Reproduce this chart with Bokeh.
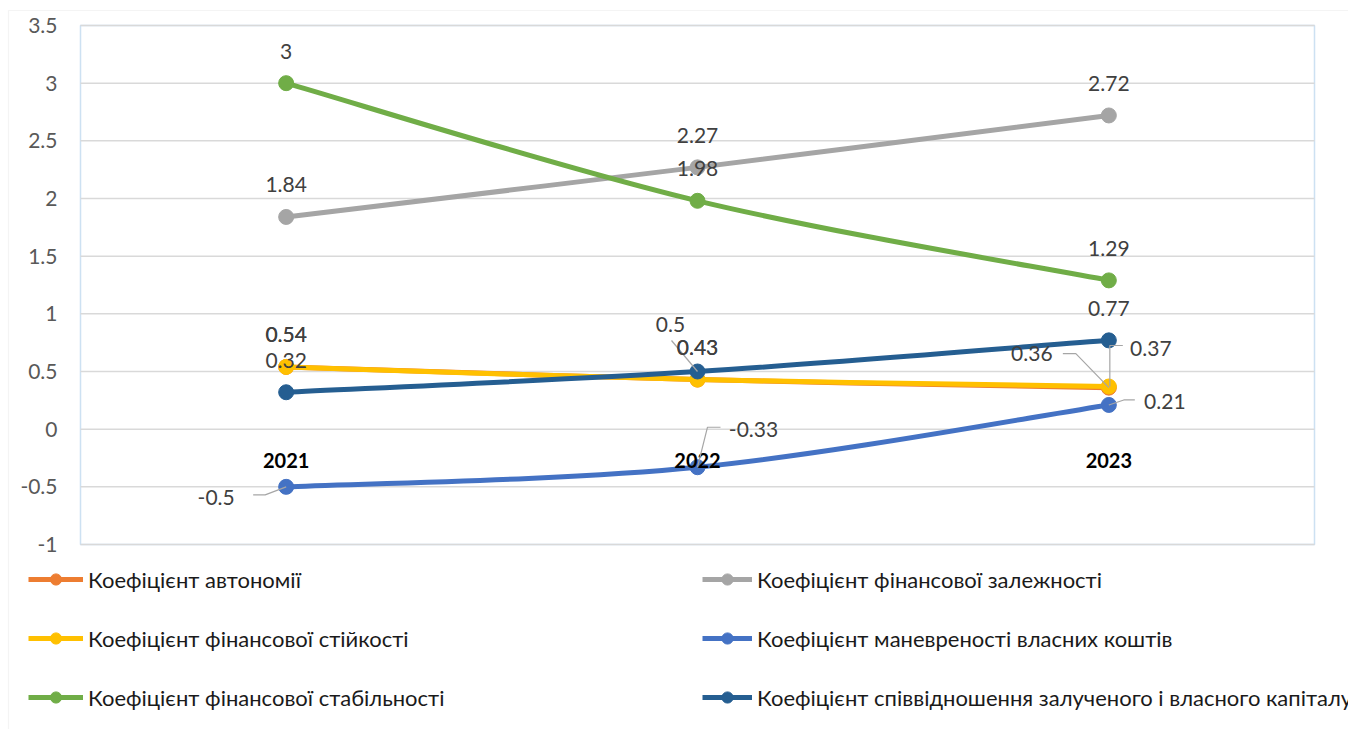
from bokeh.plotting import figure
from bokeh.models import (ColumnDataSource, Range1d, Legend, LegendItem, BoxAnnotation)
from bokeh.core.properties import value
from bokeh.embed import file_html
from bokeh.resources import INLINE

# ---- data -------------------------------------------------------------
years = ["2021", "2022", "2023"]

autonomy = [0.54, 0.43, 0.36]          # Коефіцієнт автономії
fin_dependence = [1.84, 2.27, 2.72]    # Коефіцієнт фінансової залежності
fin_resilience = [0.54, 0.43, 0.37]    # Коефіцієнт фінансової стійкості
maneuverability = [-0.5, -0.33, 0.21]  # Коефіцієнт маневреності власних коштів
fin_stability = [3.0, 1.98, 1.29]      # Коефіцієнт фінансової стабільності
debt_equity = [0.32, 0.5, 0.77]        # Коефіцієнт співвідношення залученого і власного капіталу

y_ticks = [-1, -0.5, 0, 0.5, 1, 1.5, 2, 2.5, 3, 3.5]

# ---- geometry / style ------------------------------------------------
W, H = 1348, 729
AREA_L, AREA_R, AREA_T, AREA_B = 80, 1314, 25, 544   # plot area, canvas pixels
FONT = "Lato"
X0, X1 = -0.5, len(years) - 0.5
Y0, Y1 = -1.0, 3.5
PX_X = (AREA_R - AREA_L) / (X1 - X0)     # pixels per x unit
PX_Y = (AREA_B - AREA_T) / (Y1 - Y0)     # pixels per y unit


def xd(px):
    """canvas x pixel -> data x"""
    return X0 + (px - AREA_L) / PX_X


def yd(py):
    """canvas y pixel -> data y"""
    return Y0 + (AREA_B - py) / PX_Y


DEFAULT_OFF = (0, -32)

series = [
    dict(name="Коефіцієнт автономії", values=autonomy, color="#ED7D31",
         offsets={2: (-77, -34)},
         leaders={2: [(-46, -34), (-33, -34), (0, 0)]}),
    dict(name="Коефіцієнт фінансової залежності", values=fin_dependence, color="#A5A5A5",
         offsets={}, leaders={}),
    dict(name="Коефіцієнт фінансової стійкості", values=fin_resilience, color="#FFC000",
         offsets={2: (42, -38)},
         leaders={2: [(1, 0), (1, -41), (14, -41)]}),
    dict(name="Коефіцієнт маневреності власних коштів", values=maneuverability, color="#4472C4",
         offsets={0: (-70, 11), 1: (56, -38), 2: (56, -3)},
         leaders={0: [(-33, 8), (-21, 8), (0, 0)],
                  1: [(0, 0), (10, -40), (23, -40)],
                  2: [(0, 0), (15, -5), (26, -5)]}),
    dict(name="Коефіцієнт фінансової стабільності", values=fin_stability, color="#70AD47",
         offsets={}, leaders={}),
    dict(name="Коефіцієнт співвідношення залученого і власного капіталу", values=debt_equity,
         color="#255E91",
         offsets={1: (-27, -47)},
         leaders={1: [(-26, -31), (0, 0)]}),
]

# the frame spans the whole canvas; the plot area is drawn inside it
p = figure(width=W, height=H, output_backend="svg", toolbar_location=None,
           x_range=Range1d(xd(0), xd(W)), y_range=Range1d(yd(H), yd(0)),
           min_border=0, min_border_left=0, min_border_right=0,
           min_border_top=0, min_border_bottom=0)
p.axis.visible = False
p.grid.visible = False
p.outline_line_color = None
p.background_fill_color = "white"
p.border_fill_color = "white"

# chart-area border (thin grey, runs off the right and bottom edges)
p.add_layout(BoxAnnotation(left=xd(8), right=xd(W + 50), top=yd(10), bottom=yd(H + 50),
                           fill_alpha=0, line_color="#D9D9D9", line_width=1.2,
                           level="underlay"))

# horizontal gridlines across the plot area
p.segment(x0=[X0] * len(y_ticks), x1=[X1] * len(y_ticks), y0=y_ticks, y1=y_ticks,
          line_color="#D9D9D9", line_width=1.5)

# plot-area border
p.add_layout(BoxAnnotation(left=X0, right=X1, bottom=Y0, top=Y1, fill_alpha=0,
                           line_color="#5B9BD5", line_width=1.5, level="underlay"))

# value-axis labels
p.text(x=[X0] * len(y_ticks), y=y_ticks, text=[f"{t:g}" for t in y_ticks],
       x_offset=-23, text_font=value(FONT), text_font_size="21px",
       text_color="#595959", text_align="right", text_baseline="middle")

xs = list(range(len(years)))


def smooth_segments(xv, yv):
    """Cubic Bezier segments through the points (Catmull-Rom style tangents)."""
    n = len(xv)
    seg = dict(x0=[], y0=[], x1=[], y1=[], cx0=[], cy0=[], cx1=[], cy1=[])
    for i in range(n - 1):
        ip = max(i - 1, 0)
        inn = min(i + 2, n - 1)
        seg["x0"].append(xv[i]); seg["y0"].append(yv[i])
        seg["x1"].append(xv[i + 1]); seg["y1"].append(yv[i + 1])
        seg["cx0"].append(xv[i] + (xv[i + 1] - xv[ip]) / 6)
        seg["cy0"].append(yv[i] + (yv[i + 1] - yv[ip]) / 6)
        seg["cx1"].append(xv[i + 1] - (xv[inn] - xv[i]) / 6)
        seg["cy1"].append(yv[i + 1] - (yv[inn] - yv[i]) / 6)
    return seg


legend_items = []
for s in series:
    seg = ColumnDataSource(smooth_segments(xs, s["values"]))
    p.bezier(x0="x0", y0="y0", x1="x1", y1="y1", cx0="cx0", cy0="cy0",
             cx1="cx1", cy1="cy1", source=seg, line_color=s["color"],
             line_width=5, line_cap="round")
    pts = p.scatter(x=xs, y=s["values"], size=15, marker="circle",
                    fill_color=s["color"], line_color=s["color"])
    # legend key line: same style, no visible points on the plot
    key = p.line(x=xs, y=[float("nan")] * len(xs), line_color=s["color"], line_width=5)
    legend_items.append(LegendItem(label=s["name"], renderers=[key, pts]))

# category labels sitting under the zero line
p.text(x=xs, y=[0] * len(xs), text=years, x_offset=0, y_offset=31,
       text_font=value(FONT), text_font_style="bold", text_font_size="20px",
       text_color="#000000", text_align="center", text_baseline="middle")

# leader lines and value labels
lead_xs, lead_ys = [], []
lab = dict(x=[], y=[], text=[], dx=[], dy=[])
for s in series:
    for i, v in enumerate(s["values"]):
        dx, dy = s["offsets"].get(i, DEFAULT_OFF)
        lab["x"].append(xs[i]); lab["y"].append(v)
        lab["text"].append(f"{v:g}")
        lab["dx"].append(dx); lab["dy"].append(dy)
        if i in s["leaders"]:
            pts_px = s["leaders"][i]
            lead_xs.append([xs[i] + px / PX_X for px, _ in pts_px])
            lead_ys.append([v - py / PX_Y for _, py in pts_px])

p.multi_line(xs=lead_xs, ys=lead_ys, line_color="#A6A6A6", line_width=1.2)
p.text(x="x", y="y", text="text", x_offset="dx", y_offset="dy",
       source=ColumnDataSource(lab), text_font=value(FONT), text_font_size="21px",
       text_color="#404040", text_align="center", text_baseline="middle")

# legend: two columns of three entries below the plot area
ROW_H, GAP = 28, 31
LEG_TOP = 565
for items, left_px, gw in [(legend_items[0::2], 28, 55), (legend_items[1::2], 702, 50)]:
    n = len(items)
    leg_h = n * ROW_H + (n - 1) * GAP
    leg = Legend(items=items, location=(left_px, H - (LEG_TOP + leg_h)),
                 orientation="vertical", spacing=GAP, padding=0, margin=0,
                 glyph_width=gw, glyph_height=ROW_H,
                 label_height=ROW_H, label_standoff=5,
                 label_text_font=FONT, label_text_font_size="22px",
                 label_text_color="#1A1A1A", label_text_baseline="middle",
                 border_line_alpha=0, background_fill_alpha=0)
    p.add_layout(leg, "center")

open("out.html", "w").write(file_html(p, INLINE))
